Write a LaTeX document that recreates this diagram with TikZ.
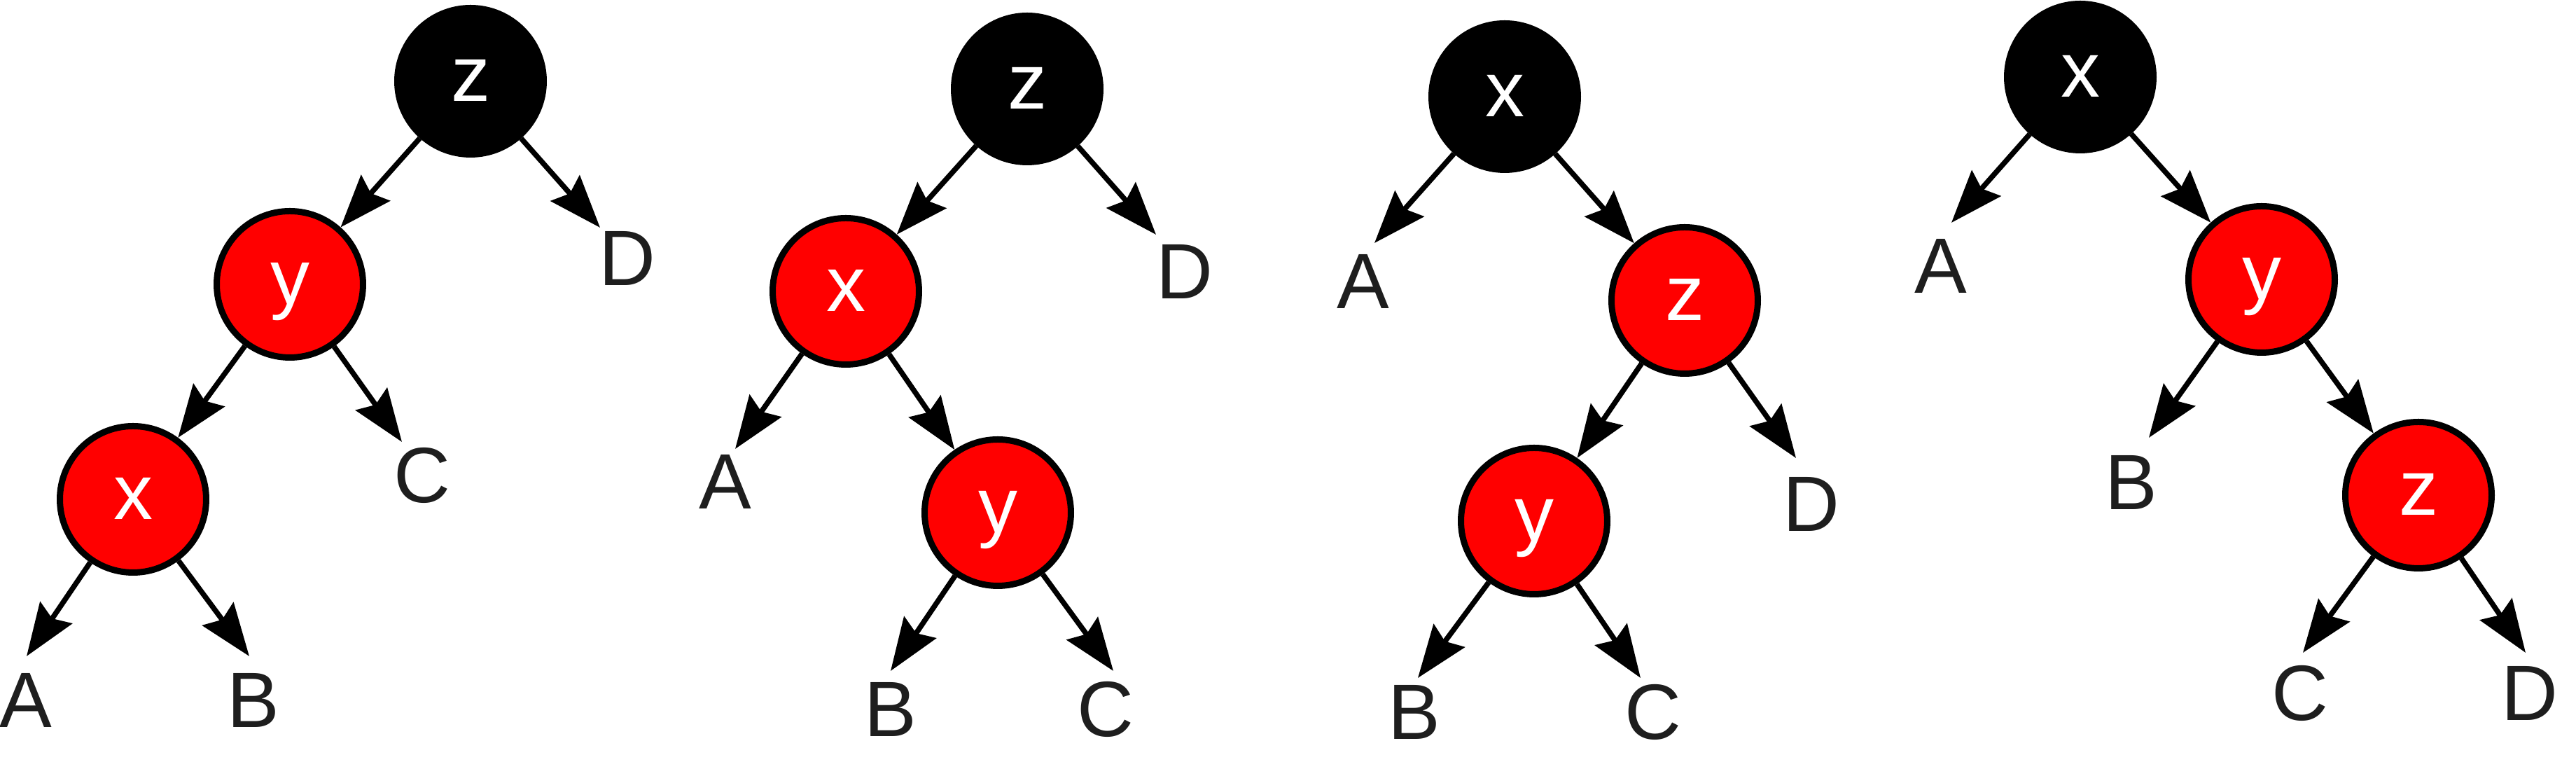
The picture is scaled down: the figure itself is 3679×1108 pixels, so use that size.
\documentclass[tikz,border=0pt]{standalone}
\usepackage{fontspec}
\setmainfont{Liberation Sans}
\usetikzlibrary{arrows.meta}
\definecolor{lbl}{RGB}{30,30,30}
\definecolor{rbred}{RGB}{255,0,0}
\begin{document}
\begin{tikzpicture}[x=0.1pt,y=-0.1pt,
  rbnode/.style={circle, minimum size=20.9pt, inner sep=0pt, line width=0.9pt, draw=black,
    font=\fontsize{11.2pt}{13pt}\selectfont, text=white, text height=5.8pt, text depth=0pt},
  blacknode/.style={rbnode, fill=black},
  rednode/.style={rbnode, fill=rbred},
  leaf/.style={inner sep=0pt, font=\fontsize{11.2pt}{13pt}\selectfont, text=lbl},
  edge/.style={line width=0.75pt, -{Stealth[length=7.5pt,width=5.5pt,inset=1pt]}}
]
\useasboundingbox (0,0) rectangle (3679,1108);

% ---------- Tree 1 ----------
\node[blacknode] (t1z) at (672,116) {z};
\node[rednode] (t1y) at (414,406) {y};
\node[rednode] (t1x) at (190,713) {x};
\node[leaf] (t1D) at (896,369) {D};
\node[leaf] (t1C) at (603,679) {C};
\node[leaf] (t1A) at (37,1000) {A};
\node[leaf] (t1B) at (362,1000) {B};
\coordinate (t1Dt) at (857,325);
\coordinate (t1Ct) at (574,631);
\coordinate (t1At) at (38,937);
\coordinate (t1Bt) at (356,937);
\draw[edge] (t1z) -- (t1y);
\draw[edge] (t1z) -- (t1Dt);
\draw[edge] (t1y) -- (t1x);
\draw[edge] (t1y) -- (t1Ct);
\draw[edge] (t1x) -- (t1At);
\draw[edge] (t1x) -- (t1Bt);

% ---------- Tree 2 ----------
\node[blacknode] (t2z) at (1467,127) {z};
\node[rednode] (t2x) at (1208,416) {x};
\node[rednode] (t2y) at (1425,732) {y};
\node[leaf] (t2D) at (1692,388) {D};
\node[leaf] (t2A) at (1036,688) {A};
\node[leaf] (t2B) at (1272,1013) {B};
\node[leaf] (t2C) at (1579,1013) {C};
\coordinate (t2Dt) at (1651,335);
\coordinate (t2At) at (1050,641);
\coordinate (t2Bt) at (1272,958);
\coordinate (t2Ct) at (1590,958);
\draw[edge] (t2z) -- (t2x);
\draw[edge] (t2z) -- (t2Dt);
\draw[edge] (t2x) -- (t2At);
\draw[edge] (t2x) -- (t2y);
\draw[edge] (t2y) -- (t2Bt);
\draw[edge] (t2y) -- (t2Ct);

% ---------- Tree 3 ----------
\node[blacknode] (t3x) at (2149,138) {x};
\node[rednode] (t3z) at (2406,429) {z};
\node[rednode] (t3y) at (2191,744) {y};
\node[leaf] (t3A) at (1947,402) {A};
\node[leaf] (t3D) at (2587,720) {D};
\node[leaf] (t3B) at (2020,1017) {B};
\node[leaf] (t3C) at (2361,1017) {C};
\coordinate (t3At) at (1963,347);
\coordinate (t3Dt) at (2565,654);
\coordinate (t3Bt) at (2025,968);
\coordinate (t3Ct) at (2343,968);
\draw[edge] (t3x) -- (t3At);
\draw[edge] (t3x) -- (t3z);
\draw[edge] (t3z) -- (t3y);
\draw[edge] (t3z) -- (t3Dt);
\draw[edge] (t3y) -- (t3Bt);
\draw[edge] (t3y) -- (t3Ct);

% ---------- Tree 4 ----------
\node[blacknode] (t4x) at (2971,110) {x};
\node[rednode] (t4y) at (3230,399) {y};
\node[rednode] (t4z) at (3454,707) {z};
\node[leaf] (t4A) at (2772,380) {A};
\node[leaf] (t4B) at (3044,689) {B};
\node[leaf] (t4C) at (3285,990) {C};
\node[leaf] (t4D) at (3613,990) {D};
\coordinate (t4At) at (2787,318);
\coordinate (t4Bt) at (3069,625);
\coordinate (t4Ct) at (3289,932);
\coordinate (t4Dt) at (3607,932);
\draw[edge] (t4x) -- (t4At);
\draw[edge] (t4x) -- (t4y);
\draw[edge] (t4y) -- (t4Bt);
\draw[edge] (t4y) -- (t4z);
\draw[edge] (t4z) -- (t4Ct);
\draw[edge] (t4z) -- (t4Dt);
\end{tikzpicture}
\end{document}
